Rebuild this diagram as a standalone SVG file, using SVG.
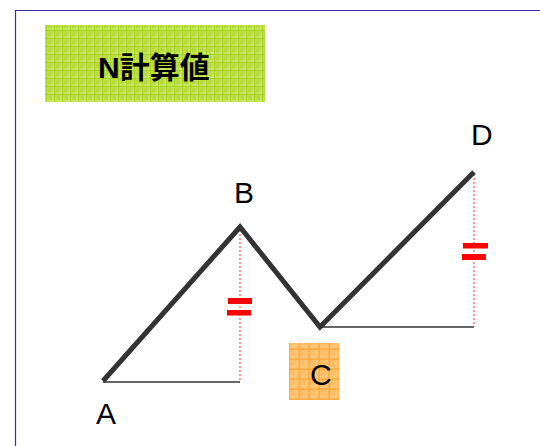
<svg xmlns="http://www.w3.org/2000/svg" width="540" height="446" viewBox="0 0 540 446">
<defs>
<pattern id="pg" width="8" height="8" patternUnits="userSpaceOnUse">
<rect width="8" height="8" fill="#c4e45a"/>
<rect x="0" y="0" width="4" height="4" fill="#b8dc40"/>
<rect x="4" y="4" width="4" height="4" fill="#cfe972"/>
<rect x="0" y="6" width="8" height="1.2" fill="#a6d119"/>
<rect x="6" y="0" width="1.2" height="8" fill="#a6d119"/>
</pattern>
<pattern id="po" width="10" height="10" patternUnits="userSpaceOnUse">
<rect width="10" height="10" fill="#fcc474"/>
<rect x="0" y="0" width="5" height="5" fill="#fbbd66"/>
<rect x="0" y="8.5" width="10" height="1.2" fill="#f9a530"/>
<rect x="8.5" y="0" width="1.2" height="10" fill="#f9a530"/>
</pattern>
<style>
.lbl{font-family:"Liberation Sans",Arial,sans-serif;font-size:30px;fill:#000}
.zig{fill:none;stroke:#333;stroke-width:5;stroke-linejoin:miter}
.base{stroke:#333;stroke-width:1.3}
.dot{stroke:#f47a7a;stroke-width:1.5;stroke-dasharray:2 2}
.eq{fill:#ff0000}
</style>
</defs>
<rect width="540" height="446" fill="#fff"/>
<path d="M15.5 446 V10.5 H540" fill="none" stroke="#3333aa" stroke-width="1.2"/>
<g id="title">
<rect x="45" y="25" width="220" height="77" fill="url(#pg)"/>
<text x="98" y="78" font-family="'Liberation Sans','Noto Sans CJK JP',sans-serif" font-size="30" font-weight="bold">N計算値</text>
</g>
<g id="connectors">
<line class="base" x1="103" y1="382" x2="240" y2="382"/>
<line class="base" x1="320" y1="327" x2="474" y2="327"/>
<line class="dot" x1="240" y1="230" x2="240" y2="382"/>
<line class="dot" x1="474" y1="174" x2="474" y2="327"/>
<polyline class="zig" points="103,381 240,227 320,327 474,172"/>
</g>
<g id="eqB">
<rect class="eq" x="228" y="298" width="24" height="6"/>
<rect class="eq" x="227" y="310" width="24" height="5.5"/>
</g>
<g id="eqD">
<rect class="eq" x="463" y="243" width="25" height="5.5"/>
<rect class="eq" x="462" y="254" width="24" height="6"/>
</g>
<g id="A"><text class="lbl" x="96" y="424">A</text></g>
<g id="B"><text class="lbl" x="234" y="203">B</text></g>
<g id="C">
<rect x="289" y="343" width="50" height="57" fill="url(#po)"/>
<text class="lbl" x="310" y="385">C</text>
</g>
<g id="D"><text class="lbl" x="471" y="145">D</text></g>
</svg>
